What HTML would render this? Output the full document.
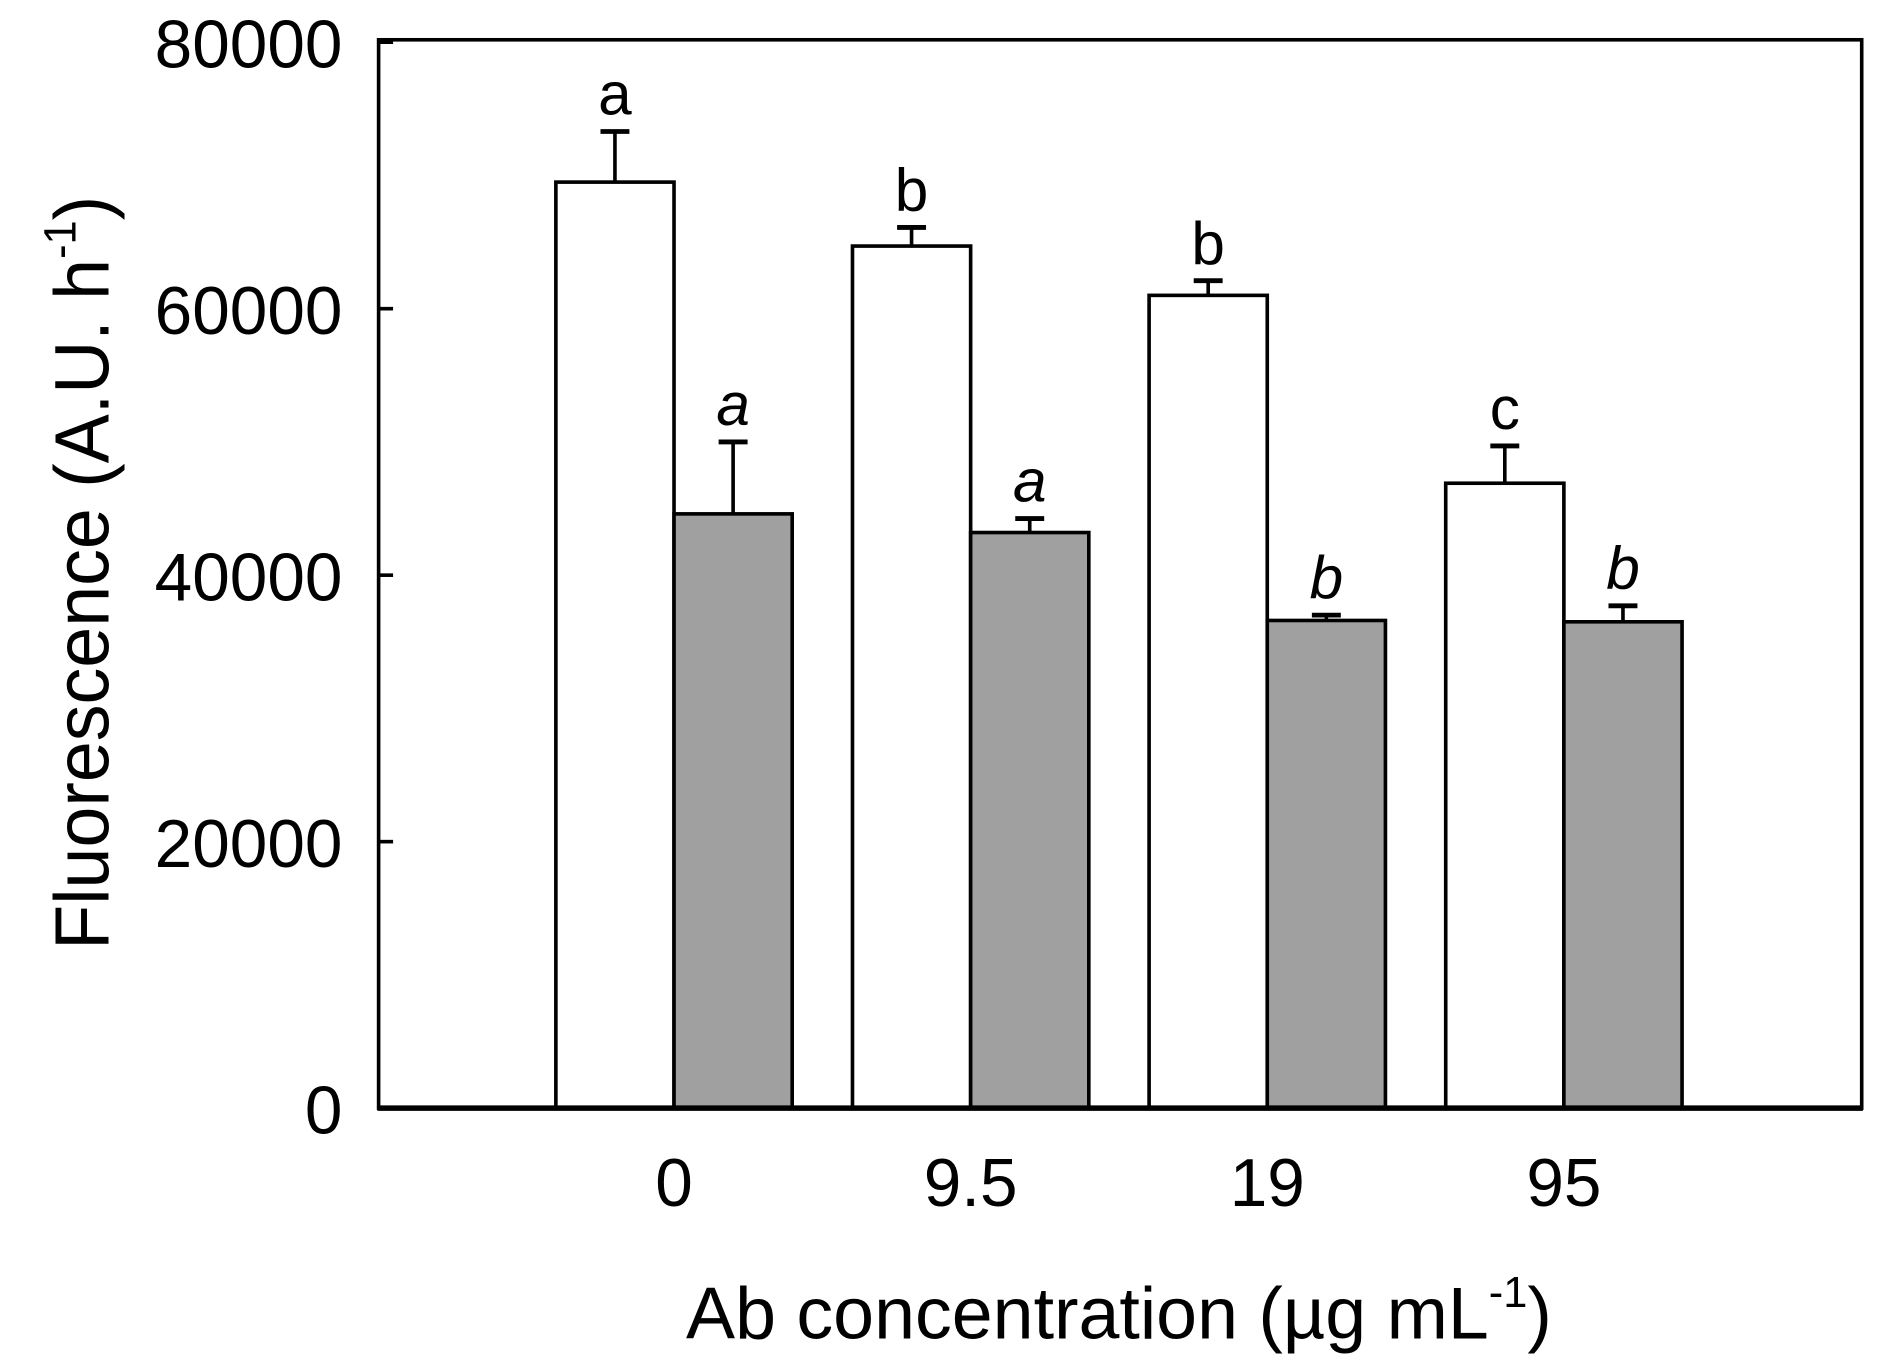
<!DOCTYPE html>
<html><head><meta charset="utf-8"><style>html,body{margin:0;padding:0;background:#fff}svg{display:block}text{font-family:"Liberation Sans",Arial,sans-serif;fill:#000}</style></head>
<body>
<svg id="chart" width="1881" height="1371" viewBox="0 0 1560 1137" preserveAspectRatio="none" xmlns="http://www.w3.org/2000/svg">
<rect x="314" y="33" width="1230" height="886" fill="none" stroke="#000" stroke-width="3"/>
<g id="ticks"></g><g id="bars"></g>
<line x1="313" y1="919" x2="1545" y2="919" stroke="#000" stroke-width="4.5"/>
<text transform="translate(90,475) rotate(-90) scale(1,1.05)" text-anchor="middle" font-size="61">Fluorescence (A.U. h<tspan font-size="36" dy="-26">-1</tspan><tspan dy="26">)</tspan></text>
<text x="928" y="1110" text-anchor="middle" font-size="61">Ab concentration (µg mL<tspan font-size="36" dy="-26">-1</tspan><tspan dy="26">)</tspan></text>
</svg>
<script>
const categories = ["0","9.5","19","95"];
const whiteValues = [69500,64700,61000,46900];
const whiteErrors = [3800,1400,1100,2800];
const whiteLetters = ["a","b","b","c"];
const grayValues = [44600,43200,36600,36500];
const grayErrors = [5400,1050,400,1200];
const grayLetters = ["a","a","b","b"];
const yTicks = [0,20000,40000,60000,80000];

const NS="http://www.w3.org/2000/svg";
const y0=919, yTop=35, yMax=80000;
const yScale=v=>y0-(v/yMax)*(y0-yTop);
const groupStart=461, groupStep=246, barW=98;
const xWhite=i=>groupStart+i*groupStep;
const xGray=i=>groupStart+i*groupStep+barW;
function mk(tag,attrs,parent){const e=document.createElementNS(NS,tag);for(const k in attrs)e.setAttribute(k,attrs[k]);parent.appendChild(e);return e;}
const tg=document.getElementById('ticks'), bg=document.getElementById('bars');
yTicks.forEach(t=>{
  const y=yScale(t);
  const l=mk('line',{x1:314,x2:326,y1:y,y2:y,stroke:'#000','stroke-width':3},tg);
  
  
  const tx=mk('text',{x:284,y:y+21,'text-anchor':'end','font-size':56},tg);
  tx.textContent=String(t);
  
  
});
function drawBar(x,v,err,letter,fill,italic,name){
  const y=yScale(v), ye=yScale(v+err), cx=x+barW/2;
  const ev=mk('line',{x1:cx,x2:cx,y1:y,y2:ye,stroke:'#000','stroke-width':3},bg);
  
  
  const ec=mk('line',{x1:cx-12,x2:cx+12,y1:ye,y2:ye,stroke:'#000','stroke-width':4},bg);
  
  
  const r=mk('rect',{x:x,y:y,width:barW,height:y0-y,fill:fill,stroke:'#000','stroke-width':3},bg);
  
  
  const t=mk('text',{x:cx,y:ye-14,'text-anchor':'middle','font-size':50},bg);
  if(italic)t.setAttribute('font-style','italic');
  t.textContent=letter;
  
  
}
categories.forEach((c,i)=>{
  drawBar(xWhite(i),whiteValues[i],whiteErrors[i],whiteLetters[i],'#fff',false,'bar-white-'+i);
  drawBar(xGray(i),grayValues[i],grayErrors[i],grayLetters[i],'#a0a0a0',true,'bar-gray-'+i);
  const t=mk('text',{x:xGray(i),y:1000,'text-anchor':'middle','font-size':56},bg);
  t.textContent=c;
  
  
});
</script>
</body></html>
